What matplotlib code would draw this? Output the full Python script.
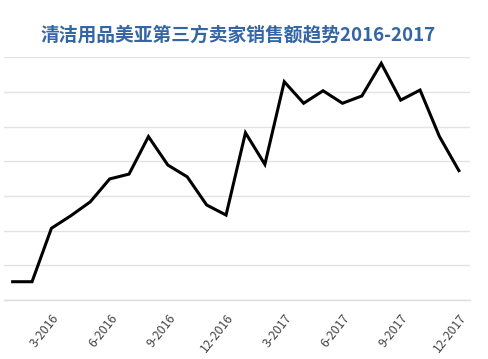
import numpy as np
import matplotlib.pyplot as plt

plt.rcParams['font.family'] = ['Noto Sans CJK SC', 'DejaVu Sans']

# monthly sales index, Jan 2016 - Dec 2017 (gridline = 100)
months = [f"{m}-{y}" for y in (2016, 2017) for m in range(1, 13)]
sales = [53, 53, 207, 243, 283, 349, 363, 471, 389, 355, 274, 245,
         482, 391, 629, 567, 603, 567, 588, 682, 576, 605, 471, 373]
tick_idx = [2, 5, 8, 11, 14, 17, 20, 23]
tick_labels = [months[i] for i in tick_idx]

fig = plt.figure(figsize=(4.89, 3.59), dpi=100)
ax = fig.add_axes([0.008, 0.164, 0.953, 0.677])

x = np.arange(len(sales))
ax.plot(x, sales, color='black', linewidth=2.2, solid_joinstyle='miter')

ax.set_xlim(-0.45, 23.57)
ax.set_ylim(0, 700)
ax.set_yticks(np.arange(0, 701, 100))
ax.yaxis.grid(True, color='#e3e3e3', linewidth=1)
ax.set_axisbelow(True)
ax.tick_params(axis='y', left=False, labelleft=False)

ax.set_xticks(tick_idx)
ax.set_xticklabels(tick_labels, rotation=52, ha='right', rotation_mode='anchor',
                   fontsize=8.8, color='#444444')
ax.tick_params(axis='x', length=0, pad=8)

for s in ['top', 'left', 'right']:
    ax.spines[s].set_visible(False)
ax.spines['bottom'].set_color('#dddddd')
ax.spines['bottom'].set_linewidth(1)

fig.text(0.487, 0.903, '清洁用品美亚第三方卖家销售额趋势2016-2017',
         ha='center', va='center', fontsize=13.5, fontweight='bold', color='#3466a6')

plt.savefig('out.png', dpi=100, facecolor='white')
